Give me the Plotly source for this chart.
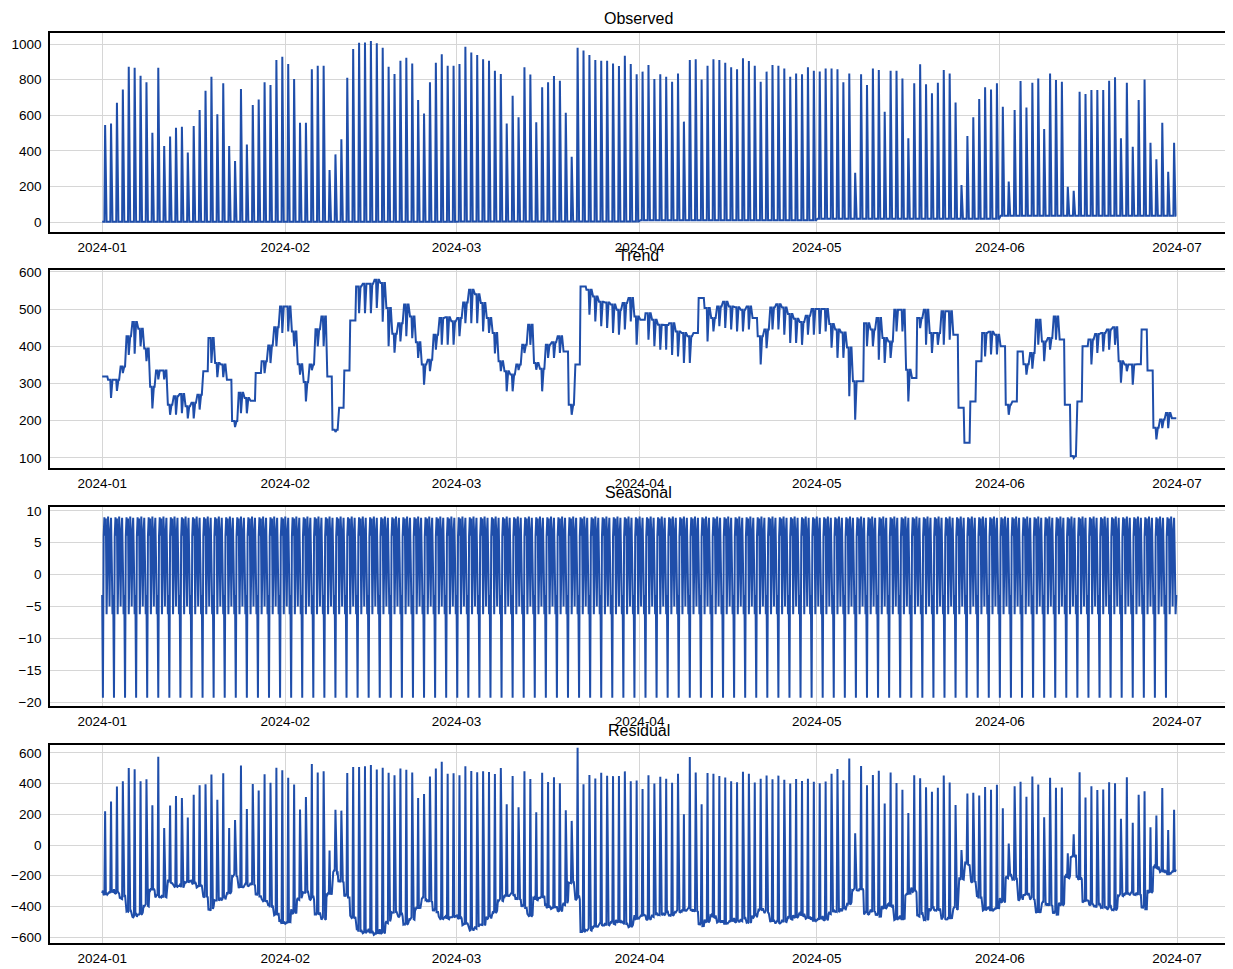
import numpy as np
import pandas as pd
import plotly.graph_objects as go
from plotly.subplots import make_subplots

# ---------------- data ----------------
start_date = "2024-01-01"
samples_per_day = 8  # 3-hourly samples

# daily peak of the observed series (Jan 1 .. Jun 30)
obs_peak = [
    545, 554, 670, 745, 873, 867, 822, 785, 502, 867, 427, 480, 530, 535, 391, 540,
    629, 738, 816, 605, 779, 427, 343, 747, 436, 657, 689, 785, 770, 910, 929, 888,
    803, 558, 558, 858, 878, 878, 292, 380, 465, 811, 972, 1007, 1009, 1017, 1004, 979,
    873, 831, 906, 923, 891, 685, 610, 785, 895, 942, 878, 878, 888, 985, 953, 938,
    914, 906, 850, 831, 554, 710, 588, 869, 829, 560, 757, 785, 820, 794, 614, 367,
    979, 963, 938, 910, 906, 906, 891, 876, 934, 888, 830, 845, 882, 803, 830, 816,
    788, 835, 564, 910, 914, 801, 878, 914, 910, 895, 869, 858, 920, 904, 878, 788,
    845, 882, 878, 863, 816, 835, 830, 869, 850, 845, 863, 863, 858, 785, 835, 277,
    830, 770, 863, 854, 620, 850, 850, 807, 470, 779, 886, 774, 723, 783, 854, 835,
    672, 208, 483, 588, 691, 757, 745, 779, 648, 227, 629, 792, 644, 783, 807, 522,
    835, 798, 788, 198, 176, 732, 719, 742, 742, 742, 794, 813, 470, 783, 423, 685,
    801, 446, 352, 558, 283, 446,
]
# low level of the observed series per month (Jan .. Jun)
obs_base_month = [2, 2, 3, 10, 18, 35]

# daily trend level and the short dip inside each day
trend_level = [
    319, 310, 310, 346, 427, 465, 447, 394, 291, 335, 335, 243, 266, 272, 239, 248,
    270, 333, 422, 355, 351, 310, 199, 275, 261, 254, 328, 360, 402, 451, 507, 507,
    440, 352, 304, 351, 446, 480, 319, 176, 235, 335, 469, 561, 568, 568, 579, 570,
    503, 434, 462, 512, 480, 411, 351, 364, 431, 476, 478, 467, 476, 518, 552, 540,
    516, 476, 436, 360, 333, 324, 351, 404, 458, 355, 340, 404, 411, 427, 386, 243,
    351, 561, 552, 534, 520, 518, 512, 498, 516, 530, 480, 471, 489, 471, 458, 457,
    462, 440, 436, 427, 436, 530, 503, 476, 507, 520, 507, 505, 498, 507, 476, 427,
    445, 504, 513, 504, 487, 474, 465, 482, 500, 500, 500, 460, 445, 437, 397, 306,
    306, 462, 445, 476, 422, 413, 498, 498, 337, 315, 476, 498, 436, 436, 494, 494,
    431, 235, 141, 252, 360, 436, 439, 431, 400, 243, 252, 386, 352, 382, 471, 413,
    422, 480, 418, 243, 105, 252, 400, 418, 433, 436, 445, 451, 360, 351, 351, 352,
    445, 335, 181, 203, 221, 207,
]
trend_dip = [
    319, 261, 280, 328, 377, 380, 400, 360, 233, 311, 311, 216, 216, 220, 206, 206,
    230, 333, 355, 317, 317, 310, 183, 220, 220, 254, 328, 328, 355, 400, 436, 440,
    400, 324, 252, 336, 400, 400, 319, 170, 235, 335, 469, 489, 489, 489, 503, 466,
    400, 383, 413, 427, 422, 369, 297, 333, 391, 404, 404, 404, 427, 462, 462, 462,
    440, 436, 381, 333, 279, 279, 336, 382, 404, 337, 279, 369, 369, 382, 386, 216,
    351, 561, 485, 467, 454, 449, 436, 431, 445, 467, 404, 471, 418, 400, 391, 391,
    377, 373, 355, 355, 436, 530, 413, 440, 454, 449, 445, 440, 440, 445, 476, 351,
    395, 445, 445, 431, 409, 409, 404, 431, 431, 433, 440, 396, 369, 369, 266, 203,
    306, 400, 400, 364, 355, 369, 440, 440, 252, 315, 449, 404, 382, 404, 404, 418,
    431, 235, 141, 252, 360, 373, 378, 378, 400, 216, 252, 386, 324, 340, 404, 360,
    391, 418, 418, 243, 100, 252, 400, 351, 382, 386, 391, 404, 302, 333, 297, 352,
    445, 335, 150, 180, 180, 207,
]

# one period of the seasonal component (15 samples of 3 h)
seasonal_cycle = [-3.2, -19.3, 6.0, 9.0, 6.1, 8.8, -6.2, 5.9, 9.1, 6.0, -5.0, 6.2, 8.9, 2.0, -6.2]

# ---------------- build the series ----------------
n_days = len(obs_peak)
times = pd.date_range(start_date, periods=n_days * samples_per_day, freq="3h")

observed = []
trend = []
for d in range(n_days):
    day = pd.Timestamp(start_date) + pd.Timedelta(days=d)
    base = obs_base_month[day.month - 1]
    observed += [base] * 4 + [obs_peak[d]] + [base] * 3
    trend += [trend_level[d]] * 4 + [trend_dip[d]] + [trend_level[d]] * 3
observed = np.array(observed, dtype=float)
trend = np.array(trend, dtype=float)
seasonal = np.resize(np.array(seasonal_cycle), len(times))
residual = observed - trend - seasonal

# ---------------- figure ----------------
line_color = "#1f4eaa"
font_family = "Liberation Sans, Arial"
fig = make_subplots(rows=4, cols=1)

panels = [
    ("Observed", observed, [-56, 1062], [0, 200, 400, 600, 800, 1000]),
    ("Trend", trend, [73, 605], [100, 200, 300, 400, 500, 600]),
    ("Seasonal", seasonal, [-20.6, 10.6], [-20, -15, -10, -5, 0, 5, 10]),
    ("Residual", residual, [-639, 652], [-600, -400, -200, 0, 200, 400, 600]),
]
# figure is 1225x961 (page body adds an 8 px offset); plot areas at
# y 25-224, 262-460, 499-698, 737-935 and x 42-1219 in figure pixels
fig_w, fig_h = 1225, 961
m_l, m_r, m_t, m_b = 42, 6, 25, 26
plot_h = fig_h - m_t - m_b
boxes = [(25, 224), (262, 460), (499, 698), (737, 935)]
domains = [[(fig_h - m_b - b) / plot_h, (fig_h - m_b - t) / plot_h] for t, b in boxes]
x_range = ["2023-12-23 04:00", "2024-07-09 11:00"]

annotations = []
for i, (name, vals, yr, yt) in enumerate(panels):
    r = i + 1
    fig.add_trace(
        go.Scatter(x=times, y=vals, mode="lines", line=dict(color=line_color, width=2),
                   showlegend=False, name=name),
        row=r, col=1,
    )
    fig.update_xaxes(
        range=x_range, domain=[0, 1], type="date", tickformat="%Y-%m", dtick="M1",
        tick0="2024-01-01", showgrid=True, gridcolor="#d6d6d6", gridwidth=1,
        showline=True, mirror=True, linecolor="black", linewidth=1.6,
        ticks="outside", ticklen=2, tickcolor="rgba(0,0,0,0)", automargin=False,
        tickfont=dict(family=font_family, size=13.5, color="black"),
        zeroline=False, row=r, col=1,
    )
    fig.update_yaxes(
        range=yr, domain=domains[i], tickvals=yt, showgrid=True, gridcolor="#d6d6d6",
        gridwidth=1, showline=True, mirror=True, linecolor="black", linewidth=1.6,
        ticks="outside", ticklen=4, tickcolor="rgba(0,0,0,0)", automargin=False,
        tickfont=dict(family=font_family, size=13.5, color="black"),
        zeroline=False, row=r, col=1,
    )
    annotations.append(dict(
        text=name, x=0.5, xref="paper", y=domains[i][1], yref="paper",
        yanchor="bottom", xanchor="center", yshift=4, showarrow=False,
        font=dict(family=font_family, size=16, color="black"),
    ))

fig.update_layout(
    width=fig_w, height=fig_h,
    margin=dict(l=m_l, r=m_r, t=m_t, b=m_b),
    paper_bgcolor="white", plot_bgcolor="white",
    annotations=annotations,
    showlegend=False,
)

fig.write_html("out.html")
